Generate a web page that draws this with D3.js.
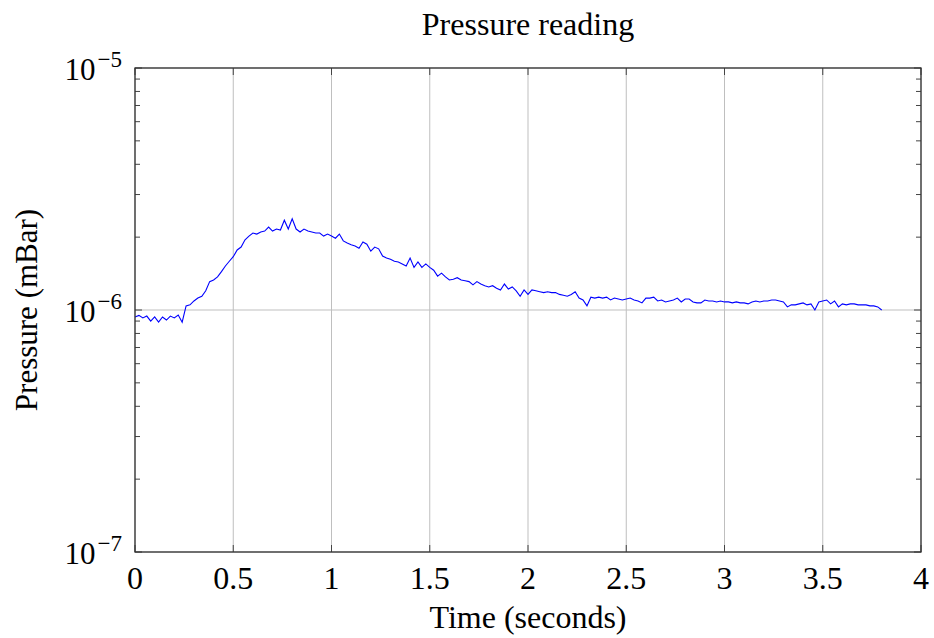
<!DOCTYPE html>
<html>
<head>
<meta charset="utf-8">
<script src="https://cdn.jsdelivr.net/npm/d3@7"></script>
<style>
  body { margin: 0; background: #fff; }
  text { font-family: "Liberation Serif", "DejaVu Serif", serif; fill: #000; }
</style>
</head>
<body>
<div id="chart"></div>
<script>
// time step of the samples (seconds)
var dt = 0.02;

// pressure readings, in units of 1e-6 mBar, one every dt from t = 0
var pressure = [
  0.936, 0.95, 0.927, 0.944, 0.90, 0.936, 0.892, 0.936, 0.909, 0.944,
  0.927, 0.953, 0.89, 1.04, 1.05, 1.09, 1.12, 1.14, 1.20, 1.31,
  1.33, 1.37, 1.44, 1.52, 1.59, 1.66, 1.77, 1.82, 1.95, 2.02,
  2.08, 2.06, 2.10, 2.12, 2.20, 2.12, 2.16, 2.14, 2.35, 2.16,
  2.38, 2.16, 2.10, 2.16, 2.12, 2.10, 2.08, 2.08, 2.02, 2.06,
  2.02, 1.98, 2.06, 1.93, 1.89, 1.86, 1.84, 1.80, 1.91, 1.87,
  1.75, 1.82, 1.79, 1.67, 1.64, 1.62, 1.59, 1.58, 1.55, 1.52,
  1.64, 1.50, 1.58, 1.50, 1.55, 1.50, 1.46, 1.38, 1.42, 1.37,
  1.33, 1.34, 1.36, 1.33, 1.32, 1.31, 1.27, 1.31, 1.28, 1.26,
  1.245, 1.26, 1.23, 1.21, 1.28, 1.22, 1.245, 1.20, 1.14, 1.21,
  1.16, 1.21, 1.20, 1.19, 1.18, 1.19, 1.18, 1.18, 1.16, 1.15,
  1.14, 1.16, 1.19, 1.12, 1.10, 1.04, 1.13, 1.12, 1.13, 1.12,
  1.13, 1.10, 1.12, 1.11, 1.10, 1.11, 1.12, 1.10, 1.09, 1.07,
  1.12, 1.12, 1.13, 1.09, 1.10, 1.08, 1.09, 1.10, 1.12, 1.08,
  1.11, 1.11, 1.08, 1.07, 1.07, 1.10, 1.09, 1.09, 1.08, 1.09,
  1.08, 1.08, 1.07, 1.08, 1.07, 1.07, 1.06, 1.08, 1.09, 1.08,
  1.09, 1.09, 1.10, 1.10, 1.09, 1.08, 1.03, 1.05, 1.05, 1.06,
  1.07, 1.05, 1.06, 1.00, 1.08, 1.09, 1.10, 1.06, 1.09, 1.03,
  1.06, 1.05, 1.06, 1.06, 1.05, 1.05, 1.05, 1.04, 1.04, 1.03,
  1.00
];

var xTicks = [0, 0.5, 1, 1.5, 2, 2.5, 3, 3.5, 4];
var yTicks = [1e-7, 1e-6, 1e-5];
var yTickExp = ["\u22127", "\u22126", "\u22125"];

var titleText = "Pressure reading";
var xLabel = "Time (seconds)";
var yLabel = "Pressure (mBar)";

var width = 934, height = 638;
var margin = {top: 68, right: 13, bottom: 86, left: 135};
var pw = width - margin.left - margin.right,
    ph = height - margin.top - margin.bottom;

var data = pressure.map(function(v, i) {
  return {t: +(i * dt).toFixed(2), p: v * 1e-6};
});

var svg = d3.select("#chart").append("svg")
  .attr("width", width)
  .attr("height", height);

var g = svg.append("g")
  .attr("transform", "translate(" + margin.left + "," + margin.top + ")");

var x = d3.scaleLinear().domain([0, 4]).range([0, pw]);
var y = d3.scaleLog().domain([1e-7, 1e-5]).range([ph, 0]);

// grid
g.selectAll(".xgrid")
  .data(xTicks)
  .enter()
  .append("line")
  .attr("class", "xgrid")
  .attr("x1", function(d) { return x(d); })
  .attr("x2", function(d) { return x(d); })
  .attr("y1", 0)
  .attr("y2", ph)
  .style("stroke", "#bfbfbf")
  .style("stroke-width", 1);

g.selectAll(".ygrid")
  .data(yTicks)
  .enter()
  .append("line")
  .attr("class", "ygrid")
  .attr("x1", 0)
  .attr("x2", pw)
  .attr("y1", function(d) { return y(d); })
  .attr("y2", function(d) { return y(d); })
  .style("stroke", "#bfbfbf")
  .style("stroke-width", 1);

// minor ticks on y, both sides, pointing in
var minor = [];
[1e-7, 1e-6].forEach(function(dec) {
  for (var k = 2; k <= 9; k++) minor.push(dec * k);
});

g.selectAll(".yminL")
  .data(minor)
  .enter()
  .append("line")
  .attr("x1", 0).attr("x2", 5)
  .attr("y1", function(d) { return y(d); })
  .attr("y2", function(d) { return y(d); })
  .style("stroke", "#444")
  .style("stroke-width", 1);

g.selectAll(".yminR")
  .data(minor)
  .enter()
  .append("line")
  .attr("x1", pw).attr("x2", pw - 5)
  .attr("y1", function(d) { return y(d); })
  .attr("y2", function(d) { return y(d); })
  .style("stroke", "#444")
  .style("stroke-width", 1);

// major ticks
g.selectAll(".xmaj")
  .data(xTicks)
  .enter()
  .append("path")
  .attr("d", function(d) {
    return "M" + x(d) + "," + ph + "v-7M" + x(d) + ",0v7";
  })
  .style("stroke", "#444")
  .style("stroke-width", 1);

g.selectAll(".ymaj")
  .data(yTicks)
  .enter()
  .append("path")
  .attr("d", function(d) {
    return "M0," + y(d) + "h7M" + pw + "," + y(d) + "h-7";
  })
  .style("stroke", "#444")
  .style("stroke-width", 1);

// the data line
var line = d3.line()
  .x(function(d) { return x(d.t); })
  .y(function(d) { return y(d.p); });

g.append("path")
  .datum(data)
  .attr("d", line)
  .style("fill", "none")
  .style("stroke", "#0000ff")
  .style("stroke-width", 1.1);

// frame
g.append("rect")
  .attr("x", 0).attr("y", 0)
  .attr("width", pw).attr("height", ph)
  .style("fill", "none")
  .style("stroke", "#333")
  .style("stroke-width", 1.3);

// tick labels
g.selectAll(".xlab")
  .data(xTicks)
  .enter()
  .append("text")
  .text(function(d) { return d; })
  .attr("x", function(d) { return x(d); })
  .attr("y", ph + 37)
  .style("font-size", "32px")
  .style("text-anchor", "middle");

var ylab = g.selectAll(".ylab")
  .data(yTicks)
  .enter()
  .append("text")
  .attr("x", -13)
  .attr("y", function(d) { return y(d) + 12; })
  .style("font-size", "31px")
  .style("text-anchor", "end");

ylab.append("tspan").text("10");
ylab.append("tspan")
  .text(function(d, i) { return yTickExp[i]; })
  .attr("dx", 2)
  .attr("dy", -13)
  .style("font-size", "23px");

// titles
svg.append("text")
  .text(titleText)
  .attr("x", margin.left + pw / 2)
  .attr("y", 35)
  .style("font-size", "32px")
  .style("text-anchor", "middle");

svg.append("text")
  .text(xLabel)
  .attr("x", margin.left + pw / 2)
  .attr("y", 628)
  .style("font-size", "32px")
  .style("text-anchor", "middle");

svg.append("text")
  .text(yLabel)
  .attr("transform", "translate(37," + (margin.top + ph / 2) + ") rotate(-90)")
  .style("font-size", "31px")
  .style("text-anchor", "middle");
</script>
</body>
</html>
